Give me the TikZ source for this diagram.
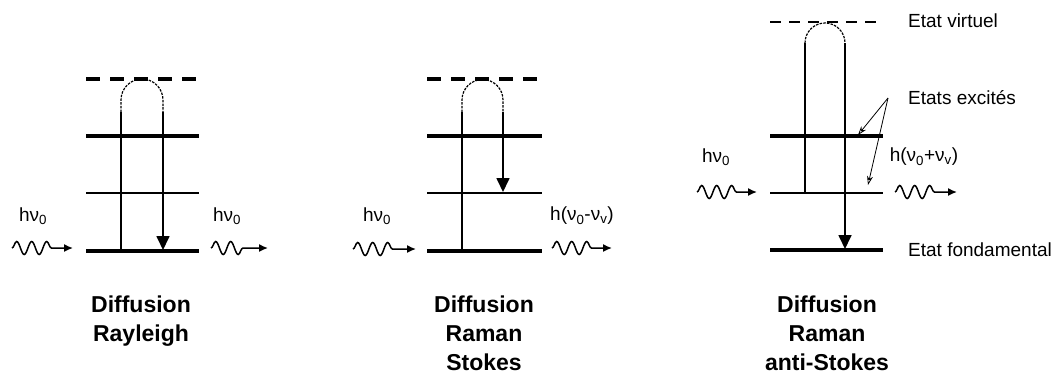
\documentclass[tikz,border=0pt]{standalone}
\usepackage{fontspec}
\setmainfont{Liberation Sans}
\usetikzlibrary{positioning,calc,arrows.meta,decorations.pathmorphing}

\tikzset{
  lvlthick/.style={line width=3.6pt},
  lvlthin/.style={line width=1.3pt},
  virtthick/.style={line width=3.6pt,dash pattern=on 14pt off 10pt},
  virtthin/.style={line width=1.3pt,dash pattern=on 11pt off 8pt},
  vert/.style={line width=1.7pt},
  loopd/.style={line width=1.2pt,dash pattern=on 2.5pt off 1.2pt},
  downarr/.style={vert,-{Triangle[width=13pt,length=14pt]}},
  photon/.style={line width=1.5pt,-{Latex[length=9pt,width=8pt]},
    decorate,decoration={snake,amplitude=6.5pt,segment length=15pt,post length=20pt}},
  pointer/.style={line width=0.8pt,-{Stealth[open,length=9pt,width=6pt]}},
  lbl/.style={font=\fontsize{19}{22}\selectfont,inner sep=0pt},
  title/.style={font=\fontsize{23}{29}\selectfont\bfseries,align=center,anchor=north,inner sep=0pt}
}

\begin{document}
\begin{tikzpicture}[x=1pt,y=-1pt]
\useasboundingbox (0,0) rectangle (1061,376);
% energy levels, Rayleigh and Stokes
\foreach \xa/\xb in {86/199,427/542} {
  \draw[virtthick] (\xa,79) -- (\xb,79);
  \draw[lvlthick] (\xa,136) -- (\xb,136);
  \draw[lvlthin] (\xa,193) -- (\xb,193);
  \draw[lvlthick] (\xa,251) -- (\xb,251);
}
% energy levels, anti-Stokes
\draw[virtthin] (770,22) -- (883,22);
\draw[lvlthick] (770,136) -- (883,136);
\draw[lvlthin] (770,193) -- (883,193);
\draw[lvlthick] (770,250) -- (883,250);

% Rayleigh
\coordinate (r-up0) at (121,251);
\coordinate (r-up1) at (121,112);
\coordinate (r-dn0) at (163,112);
\coordinate (r-dn1) at (163,250);
\draw[vert] (r-up0) -- (r-up1);
\draw[loopd] (r-up1) -- (121,100) arc[start angle=180,end angle=360,radius=21] -- (r-dn0);
\draw[downarr] (r-dn0) -- (r-dn1);
\draw[photon] (12,248) coordinate (r-in0) -- (73,248) coordinate (r-in1);
\draw[photon] (211,248) coordinate (r-out0) -- (268,248) coordinate (r-out1);
\node[lbl] (r-inlbl) at (33,216) {hν\textsubscript{0}};
\node[lbl] (r-outlbl) at (227,216) {hν\textsubscript{0}};
\node[title] (r-title) at (141,296) {Diffusion\\Rayleigh};

% Stokes
\coordinate (s-up0) at (462,251);
\coordinate (s-up1) at (462,112);
\coordinate (s-dn0) at (503,112);
\coordinate (s-dn1) at (503,192);
\draw[vert] (s-up0) -- (s-up1);
\draw[loopd] (s-up1) -- (462,100) arc[start angle=180,end angle=360,radius=20.5] -- (s-dn0);
\draw[downarr] (s-dn0) -- (s-dn1);
\draw[photon] (353,249) coordinate (s-in0) -- (416,249) coordinate (s-in1);
\draw[photon] (552,248) coordinate (s-out0) -- (612,248) coordinate (s-out1);
\node[lbl] (s-inlbl) at (377,216) {hν\textsubscript{0}};
\node[lbl] (s-outlbl) at (582,216) {h(ν\textsubscript{0}-ν\textsubscript{v})};
\node[title] (s-title) at (484,296) {Diffusion\\Raman\\Stokes};

% anti-Stokes
\coordinate (a-up0) at (805,193);
\coordinate (a-up1) at (805,43);
\coordinate (a-dn0) at (845,43);
\coordinate (a-dn1) at (845,249);
\draw[vert] (a-up0) -- (a-up1);
\draw[loopd] (a-up1) arc[start angle=180,end angle=360,radius=20] -- (a-dn0);
\draw[downarr] (a-dn0) -- (a-dn1);
\draw[photon] (697,192) coordinate (a-in0) -- (757,192) coordinate (a-in1);
\draw[photon] (895,192) coordinate (a-out0) -- (957,192) coordinate (a-out1);
\node[lbl] (a-inlbl) at (716,157) {hν\textsubscript{0}};
\node[lbl] (a-outlbl) at (924,157) {h(ν\textsubscript{0}+ν\textsubscript{v})};
\node[title] (a-title) at (827,296) {Diffusion\\Raman\\anti-Stokes};

% state names
\node[lbl,anchor=west] (virt) at (908,21) {Etat virtuel};
\node[lbl,anchor=west] (exc) at (908,98) {Etats excités};
\node[lbl,anchor=west] (fond) at (908,250) {Etat fondamental};
\coordinate (exc-src) at ([xshift=-20pt]exc.west);
\coordinate (exc-t1) at (858,135);
\coordinate (exc-t2) at (868,185);
\draw[pointer] (exc-src) -- (exc-t1);
\draw[pointer] (exc-src) -- (exc-t2);
\end{tikzpicture}
\end{document}
